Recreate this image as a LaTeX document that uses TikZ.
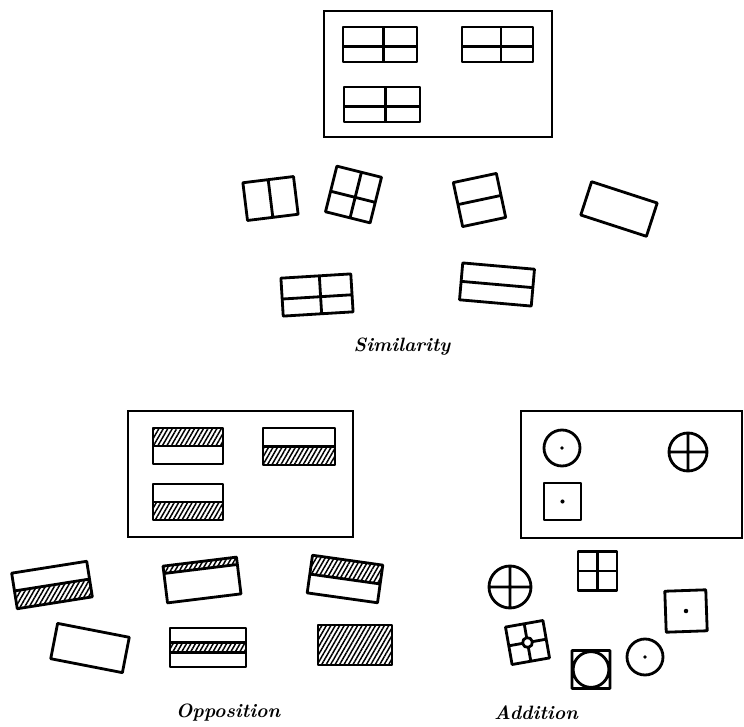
\documentclass[tikz,border=0pt]{standalone}
\usepackage{tikz}
\usetikzlibrary{patterns.meta}

\begin{document}
\begin{tikzpicture}[
    x=0.02cm, y=-0.02cm,
    frame/.style={draw, line width=1.2pt},
    card/.style={draw, line width=1.6pt, line join=round},
    hatch/.style={pattern={Lines[angle=60, distance=2.2pt, line width=0.85pt]}},
    caption/.style={font=\fontsize{11}{13}\selectfont\bfseries\itshape},
    plain card/.pic={\draw[card] (-.5,-.5) rectangle (.5,.5);},
    split card/.pic={\draw[card] (-.5,-.5) rectangle (.5,.5) (-.5,0) -- (.5,0);},
    vsplit card/.pic={\draw[card] (-.5,-.5) rectangle (.5,.5) (0,-.5) -- (0,.5);},
    quad card/.pic={\draw[card] (-.5,-.5) rectangle (.5,.5) (-.5,.05) -- (.5,.05) (.05,-.5) -- (.05,.5);},
    top card/.pic={\fill[hatch] (-.5,-.5) rectangle (.5,0);
        \draw[card] (-.5,-.5) rectangle (.5,.5) (-.5,0) -- (.5,0);},
    bottom card/.pic={\fill[hatch] (-.5,0) rectangle (.5,.5);
        \draw[card] (-.5,-.5) rectangle (.5,.5) (-.5,0) -- (.5,0);},
    strip card/.pic={\fill[hatch] (-.5,-.5) rectangle (.5,-.3);
        \draw[card] (-.5,-.5) rectangle (.5,.5) (-.5,-.3) -- (.5,-.3);},
    band card/.pic={\fill[hatch] (-.5,-.13) rectangle (.5,.12);
        \draw[card] (-.5,-.5) rectangle (.5,.5) (-.5,-.13) -- (.5,-.13) (-.5,.12) -- (.5,.12);},
    full card/.pic={\fill[hatch] (-.5,-.5) rectangle (.5,.5);
        \draw[card] (-.5,-.5) rectangle (.5,.5);},
    dot circle/.pic={\draw[card] (0,0) circle (.5); \fill (0,0) circle (.055);},
    cross circle/.pic={\draw[card] (0,0) circle (.5) (-.5,0) -- (.5,0) (0,-.5) -- (0,.5);},
    dot square/.pic={\draw[card] (-.5,-.5) rectangle (.5,.5); \fill (0,0) circle (.055);},
    grid square/.pic={\draw[card] (-.5,-.5) rectangle (.5,.5) (-.5,0) -- (.5,0) (0,-.5) -- (0,.5);},
    ring square/.pic={\draw[card] (-.5,-.5) rectangle (.5,.5) (-.5,0) -- (.5,0) (0,-.5) -- (0,.5);
        \filldraw[card, fill=white] (0,0) circle (.13);},
    round square/.pic={\draw[card] (-.5,-.5) rectangle (.5,.5) (0,0) circle (.47);},
]
    \useasboundingbox (0,0) rectangle (744,727);

    % Similarity
    \draw[frame] (324,11) rectangle (552,137);
    \pic (t1) at (380,44.5) [xscale=74, yscale=35] {quad card};
    \pic (t2) at (497.5,44.5) [xscale=71, yscale=35] {quad card};
    \pic (t3) at (382,104.5) [xscale=76, yscale=35] {quad card};

    \pic (sa) at (270.5,198.5) [rotate=7, xscale=51, yscale=38] {vsplit card};
    \pic (sb) at (353.5,194.5) [rotate=-14, xscale=46, yscale=47] {quad card};
    \pic (sc) at (479.5,200) [rotate=12, xscale=44, yscale=45] {split card};
    \pic (sd) at (619,209) [rotate=-18, xscale=69, yscale=35] {plain card};
    \pic (se) at (317,295) [rotate=3.5, xscale=70, yscale=38] {quad card};
    \pic (sf) at (497,284.5) [rotate=-5, xscale=72, yscale=37] {split card};

    \node[caption] (sim) at (402,347) {Similarity};

    % Opposition
    \draw[frame] (128,411) rectangle (353,537);
    \pic (o1) at (188,446) [xscale=70, yscale=36] {top card};
    \pic (o2) at (299,446.5) [xscale=72, yscale=37] {bottom card};
    \pic (o3) at (188,502) [xscale=70, yscale=36] {bottom card};

    \pic (p1) at (52,585) [rotate=9, xscale=76, yscale=36] {bottom card};
    \pic (p2) at (202,580) [rotate=7, xscale=74, yscale=37] {strip card};
    \pic (p3) at (345,579) [rotate=-8, xscale=71, yscale=38] {top card};
    \pic (p4) at (90,648) [rotate=-11, xscale=73, yscale=36] {plain card};
    \pic (p5) at (208,647.5) [xscale=76, yscale=39] {band card};
    \pic (p6) at (355,645) [xscale=74, yscale=40] {full card};

    \node[caption] (opp) at (228,713) {Opposition};

    % Addition
    \draw[frame] (521,411) rectangle (742,538);
    \pic (a1) at (562,448) [scale=36] {dot circle};
    \pic (a2) at (688,452) [scale=38] {cross circle};
    \pic (a3) at (562.5,501.5) [scale=37] {dot square};

    \pic (b1) at (510,587) [scale=42] {cross circle};
    \pic (b2) at (597.5,571) [scale=39] {grid square};
    \pic (b3) at (686,611) [rotate=2, scale=41] {dot square};
    \pic (b4) at (527.5,642.5) [rotate=10, scale=38] {ring square};
    \pic (b5) at (591,669.5) [scale=38] {round square};
    \pic (b6) at (645,657) [scale=36] {dot circle};

    \node[caption] (add) at (536,713) {Addition};
\end{tikzpicture}
\end{document}
